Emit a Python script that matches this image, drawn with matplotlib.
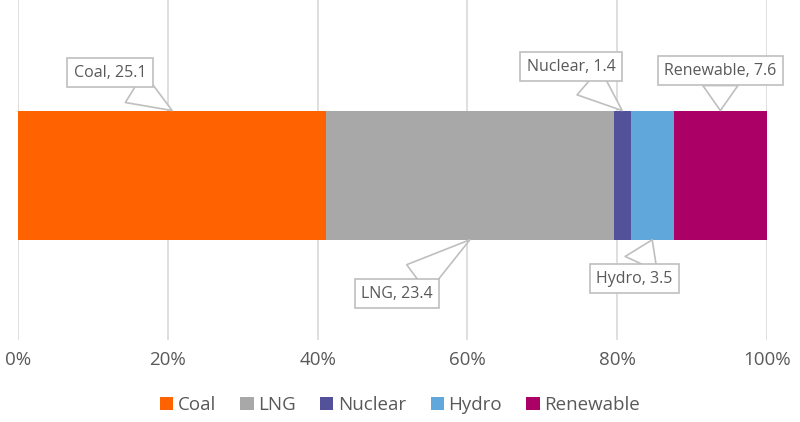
import matplotlib
matplotlib.use("Agg")
import matplotlib.pyplot as plt
from matplotlib.ticker import PercentFormatter

# Fuel mix (share labels show absolute values)
fuels = ["Coal", "LNG", "Nuclear", "Hydro", "Renewable"]
values = [25.1, 23.4, 1.4, 3.5, 7.6]
colors = ["#FF6200", "#A8A8A8", "#525199", "#60A8DB", "#AB0066"]

# callout offsets in pixels from the segment centre (box centre), up is positive
callout_offsets = [(-62, 38), (-73, -54), (-51, 44), (-18, -39), (0, 40)]

plt.rcParams["font.family"] = ["Open Sans", "DejaVu Sans"]
TEXT = "#595959"
GRID = "#D9D9D9"

fig = plt.figure(figsize=(8, 4.22), dpi=100)
ax = fig.add_axes([0.0225, 0.194, 0.9363, 0.806])

total = sum(values)
shares = [v / total * 100 for v in values]

bar_h = 0.76
left = 0
for fuel, share, c in zip(fuels, shares, colors):
    ax.barh(0, share, left=left, height=bar_h, color=c, label=fuel, zorder=3)
    left += share

ax.set_xlim(0, 100)
ax.set_ylim(-0.97, 1.03)
ax.set_xticks(range(0, 101, 20))
ax.xaxis.set_major_formatter(PercentFormatter(decimals=0))
ax.set_yticks([])
ax.grid(axis="x", color=GRID, linewidth=1.2, zorder=0)
ax.tick_params(axis="x", length=0, labelsize=13.5, colors=TEXT, pad=8)
for s in ax.spines.values():
    s.set_visible(False)

# callouts
left = 0
for fuel, v, share, (dx, dy) in zip(fuels, values, shares, callout_offsets):
    xc = left + share / 2
    yedge = bar_h / 2 if dy > 0 else -bar_h / 2
    ax.annotate(f"{fuel}, {v}", xy=(xc, yedge), xytext=(dx, dy),
                textcoords="offset pixels", ha="center", va="center",
                fontsize=11.5, color=TEXT, zorder=5,
                bbox=dict(boxstyle="square,pad=0.4", fc="white", ec="#BFBFBF", lw=1.2),
                arrowprops=dict(arrowstyle="wedge,tail_width=2.2,shrink_factor=0.5",
                                fc="white", ec="#BFBFBF", lw=1.2,
                                shrinkA=0, shrinkB=0))
    left += share

fig.legend(loc="lower center", bbox_to_anchor=(0.5, -0.012), ncol=5, frameon=False,
           fontsize=13.5, labelcolor=TEXT, handlelength=0.7, handleheight=0.7,
           handletextpad=0.25, columnspacing=1.3, borderaxespad=0.3)

fig.savefig("out.png", dpi=100, facecolor="white")
